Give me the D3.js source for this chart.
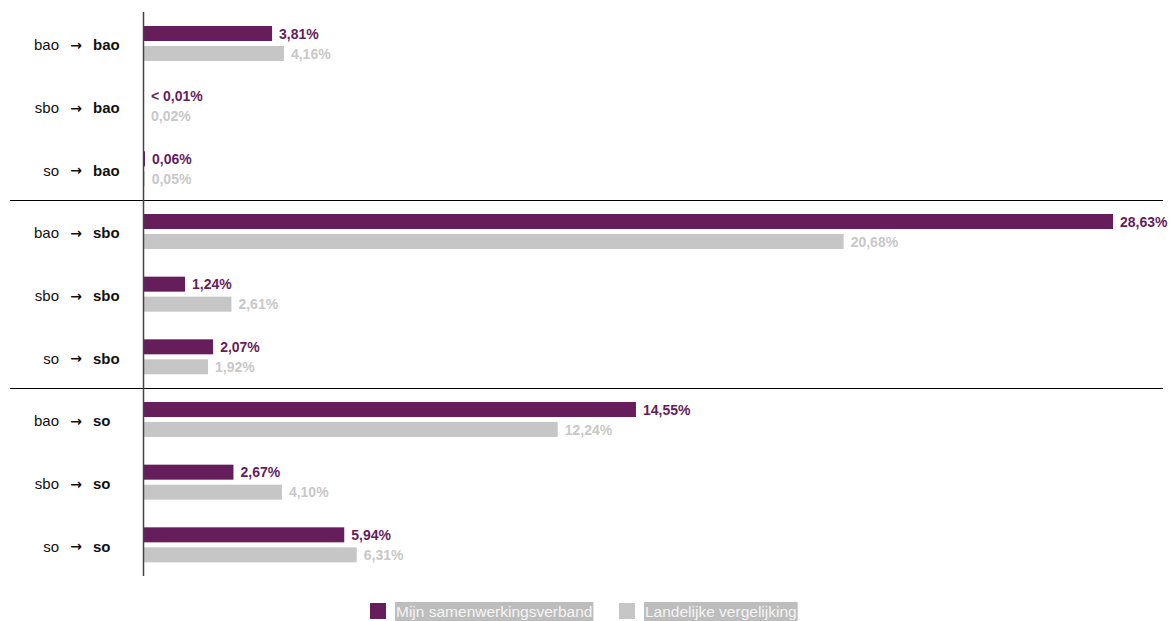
<!DOCTYPE html>
<html>
<head>
<meta charset="utf-8">
<script src="https://cdn.jsdelivr.net/npm/d3@7"></script>
<style>
  body { margin: 0; background: #fff; font-family: "Liberation Sans", Arial, sans-serif; }
</style>
</head>
<body>
<svg id="chart" width="1174" height="621"></svg>
<script>
const fromTypes = ["bao", "sbo", "so", "bao", "sbo", "so", "bao", "sbo", "so"];
const toTypes = ["bao", "bao", "bao", "sbo", "sbo", "sbo", "so", "so", "so"];
const mijnValues = [3.81, 0.004, 0.06, 28.63, 1.24, 2.07, 14.55, 2.67, 5.94];
const mijnLabels = ["3,81%", "< 0,01%", "0,06%", "28,63%", "1,24%", "2,07%", "14,55%", "2,67%", "5,94%"];
const landValues = [4.16, 0.02, 0.05, 20.68, 2.61, 1.92, 12.24, 4.10, 6.31];
const landLabels = ["4,16%", "0,02%", "0,05%", "20,68%", "2,61%", "1,92%", "12,24%", "4,10%", "6,31%"];
const seriesNames = ["Mijn samenwerkingsverband", "Landelijke vergelijking"];
const colors = ["#661d5b", "#c6c6c6"];
const labelColors = ["#661d5b", "#c8c8c8"];

const svg = d3.select("#chart");
const rows = d3.range(fromTypes.length);

const x = d3.scaleLinear().domain([0, 28.63]).range([143, 1113]);
const y = d3.scaleBand().domain(rows).range([12, 576]);
const inner = d3.scaleBand().domain([0, 1]).range([14, 49]).paddingInner(0.25);

const series = [
  { values: mijnValues, labels: mijnLabels },
  { values: landValues, labels: landLabels }
];

// group separators
[3, 6].forEach(i => {
  svg.append("line")
    .attr("x1", 10).attr("x2", 1163)
    .attr("y1", y(i) + 0.5).attr("y2", y(i) + 0.5)
    .attr("stroke", "#000").attr("stroke-width", 1);
});

const rowG = svg.selectAll("g.row")
  .data(rows)
  .enter()
  .append("g")
  .attr("class", "row")
  .attr("transform", d => `translate(0,${y(d)})`);

series.forEach((s, si) => {
  rowG.append("rect")
    .attr("x", x(0))
    .attr("y", inner(si))
    .attr("width", d => Math.max(0, x(s.values[d]) - x(0)))
    .attr("height", inner.bandwidth())
    .attr("fill", colors[si]);
  rowG.append("text")
    .attr("x", d => Math.max(x(s.values[d]) + 7, 151))
    .attr("y", inner(si) + inner.bandwidth() / 2)
    .attr("dy", "0.36em")
    .attr("fill", labelColors[si])
    .style("font-size", "14px")
    .style("font-weight", "bold")
    .text(d => s.labels[d]);
});

// category labels
const labY = inner(1) - 1;
rowG.append("text")
  .attr("x", 59).attr("y", labY).attr("dy", "0.36em")
  .attr("text-anchor", "end")
  .style("font-size", "15px").attr("fill", "#111")
  .text(d => fromTypes[d]);
rowG.append("text")
  .attr("x", 76).attr("y", labY).attr("dy", "0.36em")
  .attr("text-anchor", "middle")
  .style("font-family", "'DejaVu Sans', sans-serif")
  .style("font-size", "14px").style("font-weight", "bold").attr("fill", "#111")
  .text("\u2192");
rowG.append("text")
  .attr("x", 93).attr("y", labY).attr("dy", "0.36em")
  .style("font-size", "15px").style("font-weight", "bold").attr("fill", "#111")
  .text(d => toTypes[d]);

// vertical axis line
svg.append("line")
  .attr("x1", 143.5).attr("x2", 143.5)
  .attr("y1", 12).attr("y2", 576)
  .attr("stroke", "#444").attr("stroke-width", 1.5);

// legend
const legendX = [370, 619];
seriesNames.forEach((name, i) => {
  const g = svg.append("g").attr("transform", `translate(${legendX[i]},603)`);
  g.append("rect").attr("width", 16).attr("height", 16).attr("fill", colors[i]);
  const bg = g.append("rect").attr("x", 25).attr("y", -1).attr("height", 19).attr("fill", "#bdbdbd");
  const t = g.append("text")
    .attr("x", 26).attr("y", 8).attr("dy", "0.36em")
    .attr("fill", "#f4f4f4")
    .style("font-size", "15.5px")
    .text(name);
  bg.attr("width", t.node().getComputedTextLength() + 2);
});
</script>
</body>
</html>
